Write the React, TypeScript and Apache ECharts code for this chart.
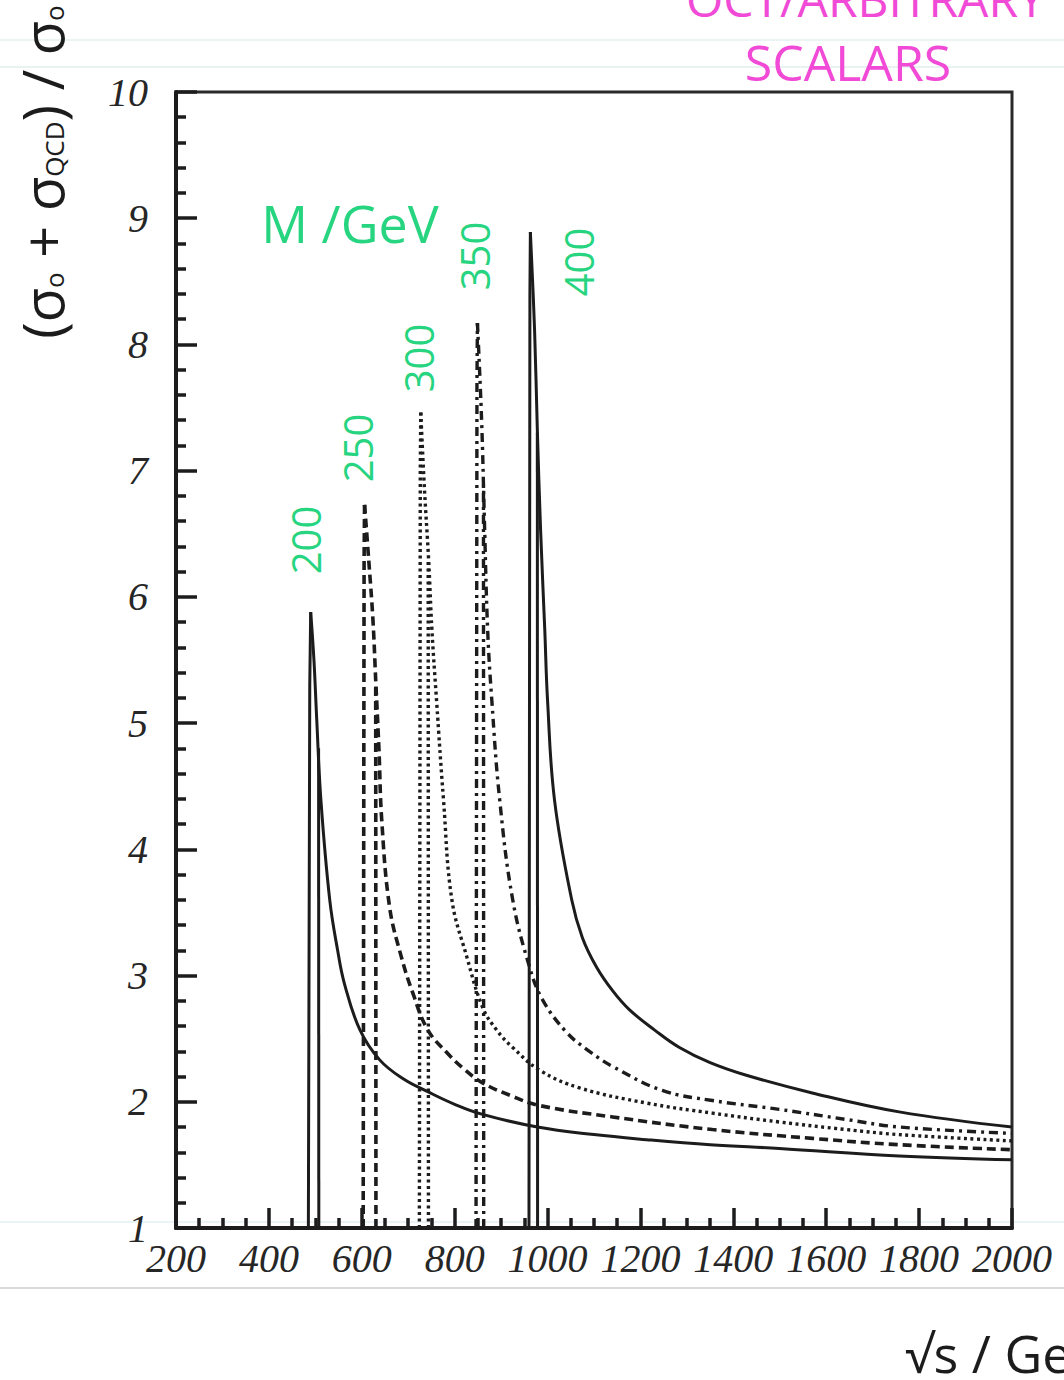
import React, { useEffect, useRef } from "react";
import * as echarts from "echarts";

// ---- data (sqrt(s) in GeV, ratio) ----
const massLabels = ["200", "250", "300", "350", "400"];
const xTicks = [200, 400, 600, 800, 1000, 1200, 1400, 1600, 1800, 2000];
const yTicks = [1, 2, 3, 4, 5, 6, 7, 8, 9, 10];

const rise200 = [[485, 1], [488, 5.3], [490, 5.88]];
const tail200 = [[490, 5.88], [497, 5.5], [503, 5.03], [512, 4.39], [531, 3.6], [548, 3.2], [563, 2.93], [596, 2.57], [639, 2.33], [690, 2.18], [742, 2.08], [800, 1.98], [860, 1.9], [978, 1.8], [1100, 1.74], [1213, 1.7], [1350, 1.66], [1499, 1.63], [1757, 1.57], [2000, 1.54]];
const branch200 = [[507.5, 1], [507, 4.8]];

const rise250 = [[603, 1], [605, 6.3], [606, 6.73]];
const tail250 = [[606, 6.73], [615, 6.29], [624, 5.82], [630, 5.34], [637, 4.79], [643, 4.23], [660, 3.54], [685, 3.15], [710, 2.86], [742, 2.57], [783, 2.39], [820, 2.26], [860, 2.15], [920, 2.05], [983, 1.97], [1140, 1.88], [1355, 1.78], [1570, 1.71], [1757, 1.66], [2000, 1.62]];
const branch250 = [[630.5, 1], [630, 5.3]];

const rise300 = [[724, 1], [726, 7.0], [727, 7.46]];
const tail300 = [[727, 7.46], [735, 6.85], [744, 6.29], [751, 5.74], [761, 5.18], [776, 4.39], [794, 3.6], [826, 3.15], [860, 2.75], [890, 2.57], [925, 2.43], [983, 2.25], [1069, 2.11], [1213, 1.99], [1355, 1.91], [1499, 1.84], [1643, 1.78], [1757, 1.74], [2000, 1.69]];
const branch300 = [[743.5, 1], [743, 6.3]];

const rise350 = [[846, 1], [848, 7.7], [849, 8.17]];
const tail350 = [[849, 8.17], [858, 7.4], [864, 6.61], [871, 5.74], [880, 5.18], [897, 4.39], [925, 3.6], [961, 3.07], [989, 2.81], [1041, 2.55], [1090, 2.4], [1140, 2.28], [1247, 2.09], [1355, 2.01], [1499, 1.94], [1643, 1.86], [1757, 1.8], [2000, 1.75]];
const branch350 = [[862.5, 1], [862, 6.9]];

const rise400 = [[960, 1], [962, 8.4], [963, 8.89]];
const tail400 = [[963, 8.89], [972, 8.12], [978, 7.32], [985, 6.53], [994, 5.74], [1000, 5.18], [1015, 4.39], [1052, 3.6], [1075, 3.3], [1105, 3.07], [1140, 2.88], [1176, 2.73], [1230, 2.57], [1284, 2.43], [1350, 2.31], [1428, 2.21], [1570, 2.07], [1757, 1.92], [2000, 1.8]];
const branch400 = [[978.5, 1], [978, 7.3]];

const curves = [
  { rise: rise200, tail: tail200, branch: branch200 },
  { rise: rise250, tail: tail250, branch: branch250 },
  { rise: rise300, tail: tail300, branch: branch300 },
  { rise: rise350, tail: tail350, branch: branch350 },
  { rise: rise400, tail: tail400, branch: branch400 },
];

// ---- styles ----
const INK = "#1c1c1c";
const GREEN = "#27d480";
const PINK = "#f04ad6";
const lineTypes: any[] = ["solid", [9, 5], [3, 3.5], [9, 5, 3, 5], "solid"];
const lineWidths = [3, 3.6, 3.4, 3.4, 3];

export default function App() {
  const ref = useRef<HTMLDivElement>(null);
  useEffect(() => {
    document.body.style.margin = "0";
    const chart = echarts.init(ref.current!, undefined, { renderer: "svg" });
    const series: any[] = [];
    curves.forEach((c, i) => {
      const ls = {
        color: INK,
        width: lineWidths[i],
        type: lineTypes[i],
      };
      series.push({ name: "M" + massLabels[i] + "rise", type: "line", data: c.rise, showSymbol: false, symbol: "none", lineStyle: ls, silent: true });
      series.push({ name: "M" + massLabels[i], type: "line", data: c.tail, showSymbol: false, symbol: "none", smooth: 0.4, lineStyle: ls, silent: true });
      series.push({ name: "M" + massLabels[i] + "branch", type: "line", data: c.branch, showSymbol: false, symbol: "none", lineStyle: ls, silent: true });
    });

    const labelFont = {
      fontFamily: "Liberation Serif",
      fontStyle: "italic" as const,
      fontSize: 40,
      color: "#262626",
      formatter: (v: number) => String(v),
    };

    const greenNum = (t: string, x: number, y: number) => ({
      type: "text",
      x,
      y,
      rotation: Math.PI / 2,
      style: { text: t, fill: GREEN, fontSize: 40, fontFamily: "Open Sans", textAlign: "center", textVerticalAlign: "middle" },
    });

    const hline = (y: number, color: string, w: number) => ({
      type: "line",
      shape: { x1: 0, y1: y, x2: 1064, y2: y },
      style: { stroke: color, lineWidth: w },
      silent: true,
      z: -1,
    });

    chart.setOption({
      animation: false,
      backgroundColor: "#ffffff",
      grid: { left: 176, top: 92, width: 836, height: 1136, show: true, borderColor: "#2a2a2a", borderWidth: 3, backgroundColor: "transparent" },
      xAxis: {
        type: "value",
        min: xTicks[0],
        max: xTicks[xTicks.length - 1],
        interval: 200,
        axisLine: { show: true, onZero: false, lineStyle: { color: INK, width: 4 } },
        axisTick: { show: true, inside: true, length: 20, lineStyle: { color: INK, width: 3.5 } },
        minorTick: { show: true, splitNumber: 4, length: 10, lineStyle: { color: INK, width: 3.5 } },
        splitLine: { show: false },
        axisLabel: { ...labelFont, margin: 10 },
      },
      yAxis: {
        type: "value",
        min: yTicks[0],
        max: yTicks[yTicks.length - 1],
        interval: 1,
        axisLine: { show: true, onZero: false, lineStyle: { color: INK, width: 4 } },
        axisTick: { show: true, inside: true, length: 21, lineStyle: { color: INK, width: 3.5 } },
        minorTick: { show: true, splitNumber: 5, length: 10, lineStyle: { color: INK, width: 3.5 } },
        splitLine: { show: false },
        axisLabel: { ...labelFont, margin: 28 },
      },
      series,
      graphic: [
        hline(40, "#e6eff0", 1.5),
        hline(67, "#e3eced", 1.5),
        hline(1222, "#e4f0f2", 1.5),
        hline(1288, "#d6dadb", 2),
        {
          type: "text", x: 686, y: -2,
          style: { text: "OCT/ARBITRARY", fill: PINK, fontSize: 48, fontFamily: "Open Sans", textAlign: "left", textVerticalAlign: "middle" },
        },
        {
          type: "text", x: 848, y: 62,
          style: { text: "SCALARS", fill: PINK, fontSize: 50, fontFamily: "Open Sans", textAlign: "center", textVerticalAlign: "middle" },
        },
        {
          type: "text", x: 350, y: 222,
          style: { text: "M /GeV", fill: GREEN, fontSize: 52, fontFamily: "Open Sans", textAlign: "center", textVerticalAlign: "middle" },
        },
        greenNum(massLabels[0], 305, 540),
        greenNum(massLabels[1], 357, 448),
        greenNum(massLabels[2], 418, 358),
        greenNum(massLabels[3], 474, 256),
        greenNum(massLabels[4], 578, 262),
        {
          type: "text", x: 42, y: 172, rotation: Math.PI / 2,
          style: {
            text: "(σ{s|o} + σ{s|QCD}) / σ{s|o}",
            fill: INK, fontSize: 56, fontFamily: "Open Sans", textAlign: "center", textVerticalAlign: "middle",
            rich: { s: { fontSize: 26, fill: INK, fontFamily: "Open Sans", padding: [24, 0, 0, 0] } },
          },
        },
        {
          type: "text", x: 905, y: 1352,
          style: { text: "√s / GeV", fill: INK, fontSize: 52, fontFamily: "Open Sans", textAlign: "left", textVerticalAlign: "middle" },
        },
      ],
    });
    return () => chart.dispose();
  }, []);
  return <div ref={ref} style={{ width: 1064, height: 1380 }} />;
}
